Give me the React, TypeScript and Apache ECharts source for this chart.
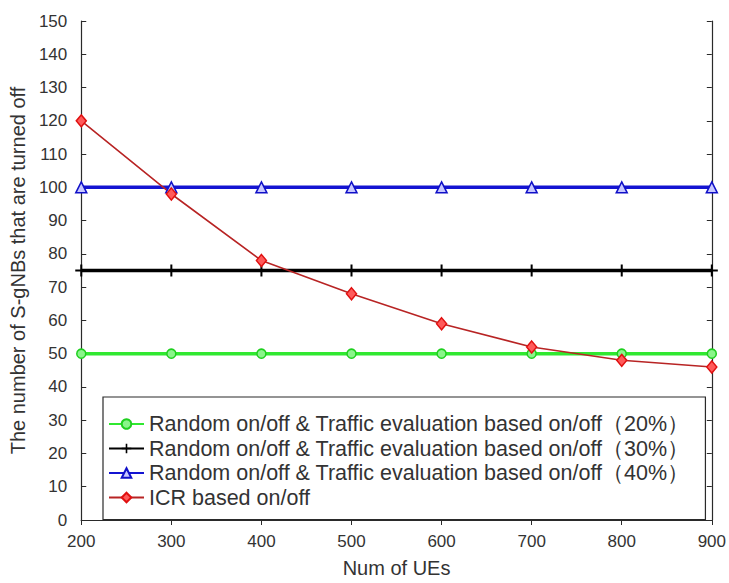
import React, { useEffect, useRef } from "react";
import * as echarts from "echarts";

const numUEs = [200, 300, 400, 500, 600, 700, 800, 900];
const random20 = [50, 50, 50, 50, 50, 50, 50, 50];
const random30 = [75, 75, 75, 75, 75, 75, 75, 75];
const random40 = [100, 100, 100, 100, 100, 100, 100, 100];
const icrBased = [120, 98, 78, 68, 59, 52, 48, 46];

const seriesNames = [
  "Random on/off & Traffic evaluation based on/off（20%）",
  "Random on/off & Traffic evaluation based on/off（30%）",
  "Random on/off & Traffic evaluation based on/off（40%）",
  "ICR based on/off",
];

const xAxisTitle = "Num of UEs";
const yAxisTitle = "The number of S-gNBs that are turned off";

const FONT = "'Liberation Sans', Arial, sans-serif";
const AXIS = "#2a2a2a";
const TEXT = "#333333";

const pairs = (ys: number[]) => numUEs.map((x, i) => [x, ys[i]]);

const plusPath =
  "path://M5,0 L7,0 L7,5 L12,5 L12,7 L7,7 L7,12 L5,12 L5,7 L0,7 L0,5 L5,5 Z";

export default function App() {
  const ref = useRef<HTMLDivElement>(null);

  useEffect(() => {
    if (!ref.current) return;
    const chart = echarts.init(ref.current, undefined, { renderer: "svg" });
    const tickStyle = { show: true, inside: true, length: 5, lineStyle: { color: AXIS, width: 1 } };
    const lineAxis = { show: true, lineStyle: { color: AXIS, width: 1.2 } };
    chart.setOption({
      animation: false,
      backgroundColor: "#ffffff",
      textStyle: { fontFamily: FONT },
      grid: { left: 77, right: 16, top: 21, bottom: 57, containLabel: false },
      legend: {
        orient: "vertical",
        left: 103,
        top: 397,
        padding: [16, 16, 11, 5],
        backgroundColor: "#ffffff",
        borderColor: AXIS,
        borderWidth: 1.2,
        borderRadius: 0,
        itemWidth: 35,
        itemHeight: 12,
        itemGap: 2.5,
        textStyle: { fontFamily: FONT, fontSize: 21.5, color: TEXT, lineHeight: 20 },
        data: seriesNames,
      },
      xAxis: [
        {
          type: "value",
          position: "bottom",
          min: 200,
          max: 900,
          interval: 100,
          axisLine: lineAxis,
          axisTick: tickStyle,
          splitLine: { show: false },
          axisLabel: { fontFamily: FONT, fontSize: 17, color: TEXT, margin: 13 },
          name: xAxisTitle,
          nameLocation: "middle",
          nameGap: 38,
          nameTextStyle: { fontFamily: FONT, fontSize: 20, color: TEXT },
        },
        {
          type: "value",
          position: "top",
          min: 200,
          max: 900,
          interval: 100,
          axisLine: lineAxis,
          axisTick: tickStyle,
          splitLine: { show: false },
          axisLabel: { show: false },
        },
      ],
      yAxis: [
        {
          type: "value",
          position: "left",
          min: 0,
          max: 150,
          interval: 10,
          axisLine: lineAxis,
          axisTick: tickStyle,
          splitLine: { show: false },
          axisLabel: { fontFamily: FONT, fontSize: 17, color: TEXT, margin: 14 },
          name: yAxisTitle,
          nameLocation: "middle",
          nameGap: 46,
          nameRotate: 90,
          nameTextStyle: { fontFamily: FONT, fontSize: 20, color: TEXT },
        },
        {
          type: "value",
          position: "right",
          min: 0,
          max: 150,
          interval: 10,
          axisLine: lineAxis,
          axisTick: tickStyle,
          splitLine: { show: false },
          axisLabel: { show: false },
        },
      ],
      series: [
        {
          name: seriesNames[0],
          type: "line",
          data: pairs(random20),
          symbol: "circle",
          symbolSize: 9,
          lineStyle: { color: "#30e830", width: 3.5 },
          itemStyle: { color: "#8af58a", borderColor: "#1fd01f", borderWidth: 1.5 },
        },
        {
          name: seriesNames[1],
          type: "line",
          data: pairs(random30),
          symbol: plusPath,
          symbolSize: 12,
          lineStyle: { color: "#000000", width: 3.5 },
          itemStyle: { color: "#000000" },
        },
        {
          name: seriesNames[2],
          type: "line",
          data: pairs(random40),
          symbol: "triangle",
          symbolSize: 11,
          lineStyle: { color: "#1414d2", width: 3.5 },
          itemStyle: { color: "#c8c8ff", borderColor: "#1010c8", borderWidth: 1.5 },
        },
        {
          name: seriesNames[3],
          type: "line",
          data: pairs(icrBased),
          symbol: "diamond",
          symbolSize: [10, 12],
          lineStyle: { color: "#b82424", width: 1.6 },
          itemStyle: { color: "#ff5a5a", borderColor: "#e01010", borderWidth: 1.5 },
        },
      ],
    });
    return () => chart.dispose();
  }, []);

  return (
    <div
      ref={ref}
      style={{ position: "absolute", left: 0, top: 0, width: 729, height: 583 }}
    />
  );
}
